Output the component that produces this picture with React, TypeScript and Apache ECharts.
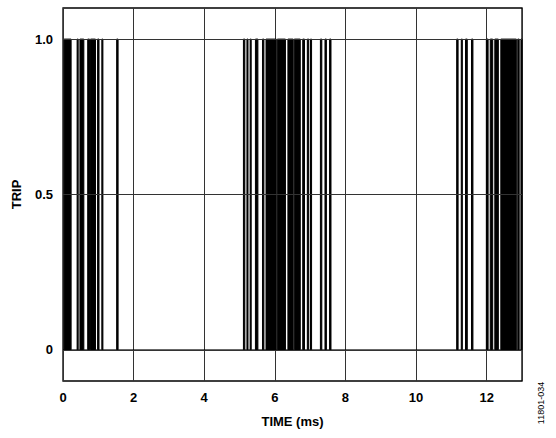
import React, { useEffect, useRef } from 'react';
import * as echarts from 'echarts';

// trip pulses, [start, end] in ms
const pulses: Array<[number, number]> = [
  [0.03, 0.23], [0.4, 0.43], [0.48, 0.59], [0.7, 0.75], [0.78, 0.92],
  [0.98, 1.02], [1.1, 1.13], [1.52, 1.56],
  [5.11, 5.15], [5.21, 5.24], [5.3, 5.33], [5.45, 5.52], [5.65, 5.69],
  [5.75, 6.04], [6.07, 6.3], [6.37, 6.52], [6.55, 6.72], [6.79, 6.84],
  [6.92, 6.96], [7.01, 7.04], [7.29, 7.33], [7.42, 7.46], [7.55, 7.59],
  [11.15, 11.19], [11.28, 11.31], [11.4, 11.45], [11.57, 11.61],
  [11.99, 12.04], [12.1, 12.17], [12.23, 12.33], [12.4, 12.84],
  [12.88, 12.92], [12.97, 13.0],
];

const yTicks = [0, 0.5, 1.0];
const yLabels = ['0', '0.5', '1.0'];
const timeRange = [0, 13];

const font = 'Liberation Sans, Arial, sans-serif';

const App: React.FC = () => {
  const chartRef = useRef<HTMLDivElement>(null);

  useEffect(() => {
    if (!chartRef.current) return;
    const chart = echarts.init(chartRef.current, undefined, { renderer: 'svg' });

    // build step trace from the pulses
    const trace: number[][] = [[timeRange[0], 0]];
    pulses.forEach(([s, e]) => {
      trace.push([s, 0], [s, 1], [e, 1], [e, 0]);
    });
    trace.push([timeRange[1], 0]);

    const option: echarts.EChartsOption = {
      animation: false,
      grid: {
        left: 63,
        right: 34,
        top: 8,
        bottom: 57,
        show: true,
        borderColor: '#000',
        borderWidth: 1.3,
      },
      xAxis: {
        type: 'value',
        min: timeRange[0],
        max: timeRange[1],
        interval: 2,
        name: 'TIME (ms)',
        nameLocation: 'middle',
        nameGap: 34,
        nameTextStyle: { fontFamily: font, fontWeight: 'bold', fontSize: 13, color: '#000' },
        axisLine: { show: false },
        axisTick: { show: false },
        axisLabel: {
          fontFamily: font,
          fontWeight: 'bold',
          fontSize: 13,
          color: '#000',
          margin: 10,
          showMaxLabel: false,
        },
        splitLine: { show: true, lineStyle: { color: '#333', width: 1 } },
      },
      yAxis: {
        type: 'value',
        min: -0.1,
        max: 1.1,
        interval: 0.1,
        name: 'TRIP',
        nameLocation: 'middle',
        nameGap: 40,
        nameTextStyle: { fontFamily: font, fontWeight: 'bold', fontSize: 13, color: '#000' },
        axisLine: { show: false },
        axisTick: { show: false },
        splitLine: { show: false },
        axisLabel: {
          fontFamily: font,
          fontWeight: 'bold',
          fontSize: 13,
          color: '#000',
          margin: 10,
          formatter: (v: number) => {
            const i = yTicks.findIndex(t => Math.abs(t - v) < 1e-6);
            return i >= 0 ? yLabels[i] : '';
          },
        },
      },
      series: [
        {
          type: 'line',
          data: trace,
          symbol: 'none',
          lineStyle: { color: '#000', width: 1 },
          areaStyle: { color: '#000', opacity: 1 },
          markLine: {
            silent: true,
            symbol: 'none',
            label: { show: false },
            lineStyle: { color: '#333', width: 1, type: 'solid' },
            data: yTicks.map(v => ({ yAxis: v })),
          },
        },
      ],
      graphic: [
        {
          type: 'text',
          x: 541,
          y: 403,
          rotation: Math.PI / 2,
          style: {
            text: '11801-034',
            fontFamily: font,
            fontSize: 9,
            fill: '#000',
            textAlign: 'center',
            textVerticalAlign: 'middle',
          },
        },
      ],
    };

    chart.setOption(option);
    return () => chart.dispose();
  }, []);

  return (
    <div
      ref={chartRef}
      style={{ position: 'fixed', left: 0, top: 0, width: 556, height: 438, background: '#fff' }}
    />
  );
};

export default App;
